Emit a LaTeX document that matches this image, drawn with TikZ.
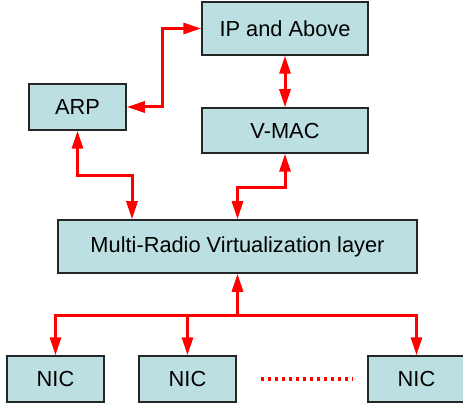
\documentclass[tikz,border=0pt]{standalone}
\usepackage{fontspec}
\setmainfont{Liberation Sans}
\usepackage{tikz}
\usetikzlibrary{positioning}
\usetikzlibrary{arrows.meta}
\definecolor{boxfill}{RGB}{188,224,225}

\begin{document}
\begin{tikzpicture}[x=1pt,y=-1pt,
  layer/.style={draw=black!85,line width=1.5pt,fill=boxfill,inner sep=0pt,
    font=\fontsize{21.8}{25}\selectfont},
  link/.style={red,line width=3pt,
    arrows={Triangle[length=18pt,width=11pt]-Triangle[length=18pt,width=11pt]}},
  down/.style={red,line width=3pt,-{Triangle[length=18pt,width=11pt]}},
  up/.style={red,line width=3pt,{Triangle[length=18pt,width=11pt]}-}]
\useasboundingbox (0,0) rectangle (463,406);
%stack
\node [layer,minimum width=166pt,minimum height=53pt] (ip) at (285,28.5) {IP and Above};
\node [layer,minimum width=97pt,minimum height=46pt] (arp) at (77.5,107) {ARP};
\node [layer,minimum width=166pt,minimum height=45pt] (vmac) at (285,130.5) {V-MAC};
\node [layer,minimum width=359pt,minimum height=53pt] (mrv) at (237.5,246.5) {Multi-Radio Virtualization layer};
%NICs
\node [layer,minimum width=97pt,minimum height=46pt] (nic1) at (55.5,379) {NIC};
\node [layer,minimum width=97pt,minimum height=46pt] (nic2) at (187.5,379) {NIC};
\node [layer,minimum width=97pt,minimum height=46pt] (nic3) at (416.5,379) {NIC};
%
\draw [link] (ip.west) -- ++(-39,0) |- (arp.east);
\draw [link] (ip.south) -- (vmac.north);
\draw [link] (arp.south) -- ++(0,45) -| ([xshift=-105.5pt]mrv.north);
\draw [link] (vmac.south) -- ++(0,34) -| (mrv.north);
\draw [up] (mrv.south) -- ++(0,42) coordinate (bus);
\draw [down] (bus) -| (nic1.north);
\draw [down] (bus) -| (nic2.north);
\draw [down] (bus) -| (nic3.north);
\draw [red,line width=3.5pt,dash pattern=on 3.5pt off 3.5pt] ([xshift=24pt]nic2.east) -- ([xshift=-15pt]nic3.west);
\end{tikzpicture}
\end{document}
